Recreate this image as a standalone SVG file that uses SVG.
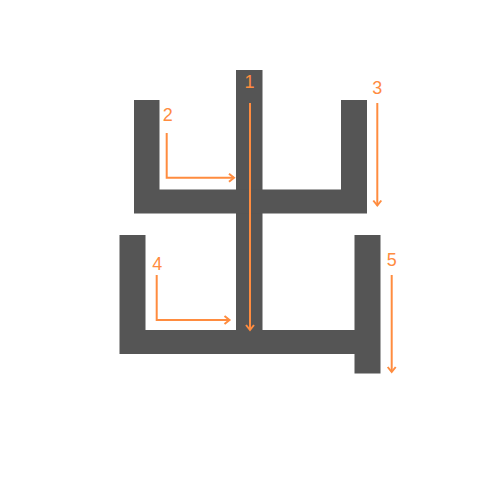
<svg xmlns="http://www.w3.org/2000/svg" width="500" height="500" viewBox="0 0 500 500">
<style>
.s{fill:#555555}
.a{fill:none;stroke:#FF8C3F;stroke-width:2;marker-end:url(#ah)}
.t{fill:#FF8C3F;font-family:"Liberation Sans",Arial,sans-serif;font-size:18px;text-anchor:middle}
</style>
<defs>
<marker id="ah" markerUnits="userSpaceOnUse" viewBox="-7 -6 9 12" refX="0" refY="0" markerWidth="9" markerHeight="12" orient="auto">
<path d="M-5,-4 L0,0 L-5,4" fill="none" stroke="#FF8C3F" stroke-width="2"/>
</marker>
</defs>
<rect width="500" height="500" fill="#fff"/>
<g id="stroke1"><rect class="s" x="236" y="70" width="26.5" height="284"/></g>
<g id="stroke2"><path class="s" d="M134,100 H159.5 V189.5 H262 V213.5 H134 Z"/></g>
<g id="stroke3"><path class="s" d="M236,189.5 H341 V100 H367 V213.5 H236 Z"/></g>
<g id="stroke4"><path class="s" d="M119.5,235 H145.5 V330 H262 V354 H119.5 Z"/></g>
<g id="stroke5"><path class="s" d="M236,330 H354.5 V235 H380.5 V373.5 H354.5 V354 H236 Z"/></g>
<g id="connectors">
<path class="a" d="M250,103 V330"/>
<path class="a" d="M166.7,133 V177.7 H234"/>
<path class="a" d="M377.3,103 V205.5"/>
<path class="a" d="M156.7,275 V320 H229.5"/>
<path class="a" d="M391.7,275 V372"/>
</g>
<g id="labels">
<text class="t" x="249.5" y="88">1</text>
<text class="t" x="167.8" y="121">2</text>
<text class="t" x="377.3" y="94">3</text>
<text class="t" x="157.3" y="269.5">4</text>
<text class="t" x="391.7" y="266">5</text>
</g>
</svg>
